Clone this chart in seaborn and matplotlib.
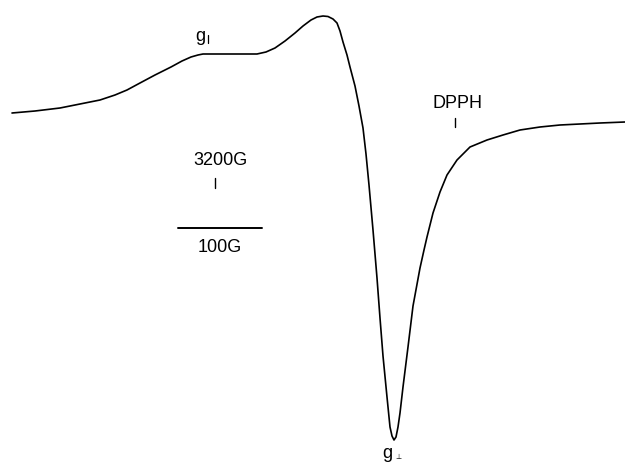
import matplotlib
matplotlib.use("Agg")
import matplotlib.pyplot as plt
import seaborn as sns
import pandas as pd

# Spectrum trace (field position in picture units, signal in picture units, y downward)
field = [12, 35, 60, 80, 100, 115, 127, 140, 155, 171, 182, 191, 198, 203, 230, 257,
         266, 275, 285, 295, 303, 311, 317, 323, 328, 333, 337, 340, 343, 347, 350,
         355, 359, 363, 366, 369, 373, 377, 380, 383, 387, 390, 392, 394, 396, 398,
         400, 403, 408, 413, 420, 424, 427, 433, 440, 447, 457, 470, 487, 503, 520,
         540, 560, 580, 600, 625]
signal = [113, 111, 108, 104, 100, 95, 90, 83, 75, 67, 61, 57, 55, 54, 54, 54,
          52, 48, 41, 33, 26, 20, 17, 16, 16.5, 19, 23, 31, 42, 55, 67,
          86, 106, 128, 154, 185, 230, 278, 318, 356, 397, 427, 436, 440, 437, 427,
          413, 387, 347, 306, 268, 250, 237, 213, 192, 175, 160, 147, 140, 135, 130,
          127, 125, 124, 123, 122]

labels = ["3200G", "100G", "DPPH"]

df = pd.DataFrame({"field": field, "signal": signal})

sns.set_style("white")
plt.rcParams["font.family"] = ["Liberation Sans", "DejaVu Sans"]
plt.rcParams["text.color"] = "black"

fig = plt.figure(figsize=(6.25, 4.65), dpi=100)
ax = fig.add_axes([0, 0, 1, 1])
sns.lineplot(data=df, x="field", y="signal", ax=ax, color="black",
             linewidth=1.2, estimator=None, sort=False)
ax.set_xlim(0, 625)
ax.set_ylim(465, 0)
ax.axis("off")

fs = 13
# g parallel
ax.text(195, 41, "g", fontsize=fs, ha="left", va="baseline", color="black")
ax.plot([208, 208], [35, 43], color="black", lw=0.9)
# 3200G marker
ax.text(220, 165, labels[0], fontsize=fs, ha="center", va="baseline", color="black")
ax.plot([215, 215], [178, 188], color="black", lw=1.0)
# scale bar
ax.plot([178, 262], [228, 228], color="black", lw=1.4)
ax.text(220, 252, labels[1], fontsize=fs, ha="center", va="baseline", color="black")
# DPPH marker
ax.text(458, 108, labels[2], fontsize=fs, ha="center", va="baseline", color="black")
ax.plot([455, 455], [118, 127], color="black", lw=1.0)
# g perpendicular
ax.text(382, 458, "g", fontsize=fs, ha="left", va="baseline", color="black")
ax.text(398, 459, "\u22a5", fontsize=5, ha="center", va="baseline", color="black")

fig.savefig("out.png", dpi=100)
